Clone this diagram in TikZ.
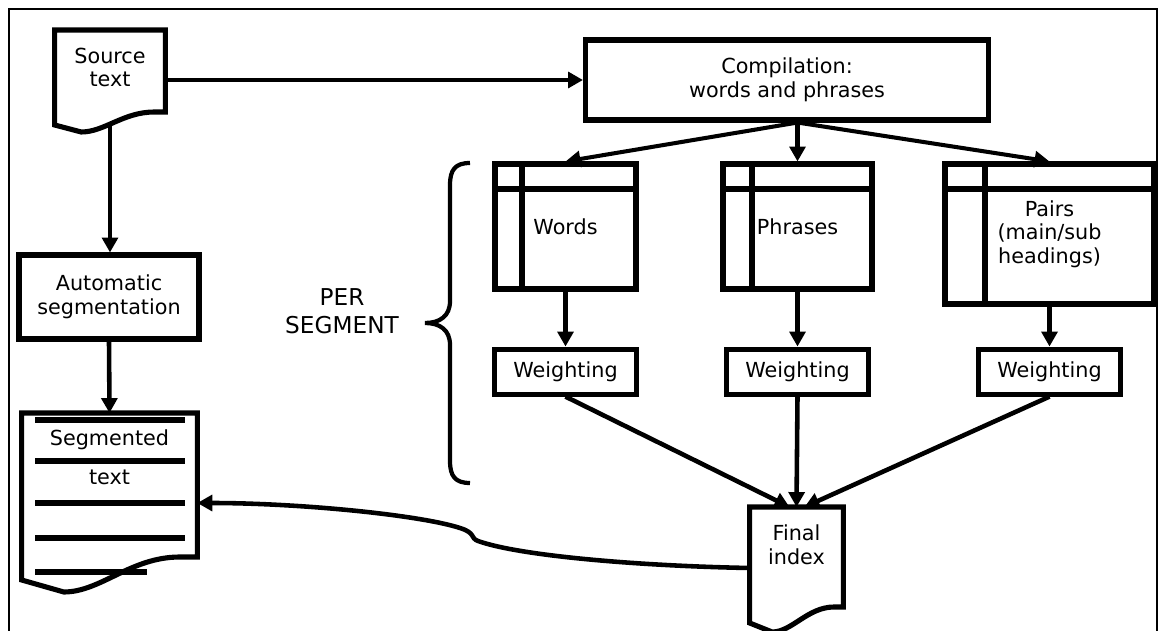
\documentclass[tikz,border=0pt]{standalone}
\usepackage{fontspec}
\setmainfont{DejaVu Sans}
\usetikzlibrary{arrows.meta,positioning,calc}

\tikzset{
  heavy/.style={line width=2.9pt},
  arr/.style={line width=2.6pt,-{Triangle[length=8.5pt,width=9pt]}},
  box/.style={draw,heavy,align=center,inner sep=2pt,font=\fontsize{11.8}{13.4}\selectfont},
  tablebox/.style={box,minimum height=2.5cm,path picture={
      \draw[heavy] ([xshift=#1]path picture bounding box.north west) -- ([xshift=#1]path picture bounding box.south west);
      \draw[heavy] ([yshift=-0.5cm]path picture bounding box.north west) -- ([yshift=-0.5cm]path picture bounding box.north east);}},
  wbox/.style={box,minimum width=2.84cm,minimum height=0.9cm},
  doctext/.style={align=center,inner sep=0pt,font=\fontsize{11.8}{13.4}\selectfont},
}

% document symbol round a text node: top, right foot, left foot, dip (px from centre)
\newcommand{\docshape}[5]{%
  \draw[heavy] ($(#1.west)+(0,#4)$) -- ($(#1.west)+(0,#2)$) -- ($(#1.east)+(0,#2)$)
    -- ($(#1.east)+(0,#3)$) -- ($(#1.west)!0.9!(#1.east)+(0,#3)$)
    .. controls ($(#1.west)!0.62!(#1.east)+(0,#3)$) and ($(#1.west)!0.45!(#1.east)+(0,#5)$)
    .. ($(#1.west)!0.24!(#1.east)+(0,#5)$) -- cycle;
  \coordinate (#1-top) at ($(#1)+(0,#2)$);
  \coordinate (#1-foot) at ($(#1)+(0,#3/2+#5/2)$);
}

\begin{document}
\begin{tikzpicture}[x=0.02cm,y=-0.02cm]
  \useasboundingbox (0,0) rectangle (1159,631);
  \draw[line width=0.8pt] (9,640) -- (9,9) -- (1157,9) -- (1157,640);

  % left column
  \node[doctext,minimum width=2.2cm] (src) at (110,67.5) {Source\\text};
  \docshape{src}{-37.5}{44.5}{57.5}{64.5}
  \node[box,minimum width=3.6cm,minimum height=1.68cm] (auto) at (109,297) {Automatic\\segmentation};
  \node[doctext,minimum width=3.5cm] (seg) at (109.5,457.5) {Segmented\\[8.9pt]text};
  \docshape{seg}{-44.5}{99.5}{122.5}{134.5}
  \foreach \dy in {-37.5,3.5,45.5,80.5}
    \draw[heavy] ($(seg)+(-74.5,\dy)$) -- ++(150,0);
  \draw[heavy] ($(seg)+(-74.5,114.5)$) -- ++(112,0);

  \draw[arr] (src-foot) -- (src-foot |- auto.north);
  \draw[arr] (auto.south) -- (seg-top);

  % compilation and tables
  \node[box,minimum width=8.06cm,minimum height=1.6cm] (comp) at (787,80) {Compilation:\\words and phrases};
  \draw[arr] (src.east |- comp.west) -- (comp.west);

  \node[tablebox=0.54cm,minimum width=2.82cm] (words) at (565.5,226.5) {Words};
  \node[tablebox=0.58cm,minimum width=2.98cm] (phr) at (797.5,226.5) {Phrases};
  \node[tablebox=0.8cm,minimum width=4.18cm,minimum height=2.8cm] (pairs) at (1049.5,234) {Pairs\\(main/sub\\headings)};

  \coordinate (fan) at (comp.south -| phr.north);
  \foreach \t in {words,phr,pairs}
    \draw[arr,line width=2.3pt] (fan) -- (\t.north);

  \node[wbox,below=1.1cm of words] (w1) {Weighting};
  \node[wbox,below=1.1cm of phr] (w2) {Weighting};
  \node[wbox] (w3) at (pairs |- w2) {Weighting};
  \draw[arr] (words.south) -- (w1.north);
  \draw[arr] (phr.south) -- (w2.north);
  \draw[arr] (pairs.south) -- (w3.north);

  % brace
  \draw[line width=2.4pt] (470,163) .. controls (455,163) and (450,170) .. (450,185) -- (450,301)
    .. controls (450,316) and (440,323) .. (425,323) .. controls (440,323) and (450,330) .. (450,345)
    -- (450,461) .. controls (450,476) and (455,483) .. (470,483);
  \node[align=center,font=\fontsize{13.2}{15.9}\selectfont] (per) at (342,311) {PER\\SEGMENT};

  % final index
  \node[doctext,minimum width=1.86cm] (fin) at (796.5,545) {Final\\index};
  \docshape{fin}{-38}{62}{78}{87}
  \draw[arr] (w1.south) -- ([xshift=-0.14cm]fin-top);
  \draw[arr] (w2.south) -- (fin-top);
  \draw[arr] (w3.south) -- ([xshift=0.16cm]fin-top);

  \draw[arr] ($(fin.west)+(0,23)$) .. controls (640,566) and (520,556) .. (478,541)
    .. controls (470,538) and (476,533) .. (460,528)
    .. controls (420,515) and (300,503) .. ($(seg.east)+(0,45.5)$);
\end{tikzpicture}
\end{document}
